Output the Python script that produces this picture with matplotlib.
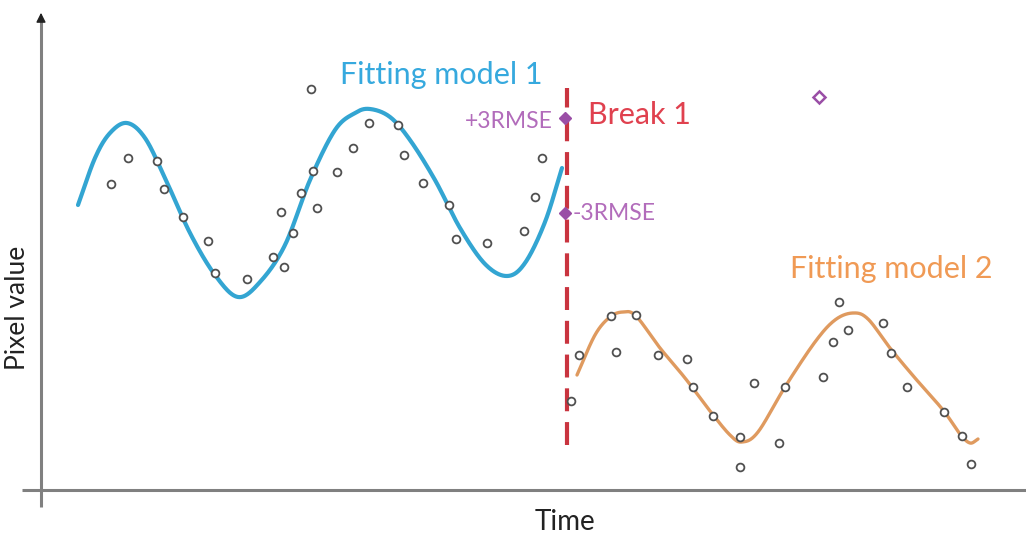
import numpy as np
import matplotlib
matplotlib.use("Agg")
import matplotlib.pyplot as plt

# ---- observations before the break ----
obs1_t = [111, 128, 157, 164, 183, 208, 215, 247, 273, 284, 281, 293, 301, 313,
          317, 311, 337, 353, 369, 398, 404, 423, 449, 456, 487, 524, 535, 542]
obs1_v = [354, 380, 377, 349, 321, 297, 265, 259, 281, 271, 326, 305, 345, 367,
          330, 449, 366, 390, 415, 413, 383, 355, 333, 299, 295, 307, 341, 380]

# ---- observations after the break ----
obs2_t = [571, 579, 611, 616, 636, 658, 687, 693, 713, 740, 740, 754, 779, 785,
          823, 833, 839, 848, 883, 891, 907, 944, 962, 971]
obs2_v = [137, 183, 222, 186, 223, 183, 179, 151, 122, 101, 71, 155, 95, 151,
          161, 196, 236, 208, 215, 185, 151, 126, 102, 74]

# ---- fitted model 1 (knots of the fitted curve) ----
fit1_t = [78, 95, 110, 127, 145, 165, 190, 215, 238, 260, 285, 310, 335, 355,
          370, 390, 410, 435, 460, 485, 507, 525, 545, 562]
fit1_v = [333, 380, 405, 415, 400, 360, 305, 263, 241, 256, 293, 358, 408, 425,
          429, 421, 398, 358, 310, 274, 262, 275, 316, 370]

# ---- fitted model 2 ----
fit2_t = [577, 595, 610, 623, 636, 660, 685, 710, 730, 742, 758, 785, 815, 835,
          853, 868, 890, 915, 943, 960, 970, 978]
fit2_v = [163, 203, 221, 226, 222, 190, 160, 127, 103, 96, 106, 151, 196, 218,
          225, 219, 190, 160, 128, 104, 95, 99]

# ---- break and RMSE bounds ----
break_t = 567
break_span = (93, 450)
rmse_t = 565
rmse_upper = 420
rmse_lower = 325
outlier_t, outlier_v = 819, 441


def catmull_rom(xs, ys, n=30):
    p = np.column_stack([xs, ys]).astype(float)
    p = np.vstack([2 * p[0] - p[1], p, 2 * p[-1] - p[-2]])
    out = []
    s = np.linspace(0, 1, n, endpoint=False)[:, None]
    for i in range(1, len(p) - 2):
        p0, p1, p2, p3 = p[i - 1], p[i], p[i + 1], p[i + 2]
        seg = 0.5 * ((2 * p1) + (-p0 + p2) * s
                     + (2 * p0 - 5 * p1 + 4 * p2 - p3) * s ** 2
                     + (-p0 + 3 * p1 - 3 * p2 + p3) * s ** 3)
        out.append(seg)
    out.append(p[-2][None, :])
    out = np.vstack(out)
    return out[:, 0], out[:, 1]


plt.rcParams['font.family'] = ['Lato', 'DejaVu Sans']

fig = plt.figure(figsize=(10.26, 5.38), dpi=100)
ax = fig.add_axes([0, 0, 1, 1])
ax.set_xlim(0, 1026)
ax.set_ylim(0, 538)
ax.axis('off')

axis_col = '#808080'
# axes drawn as arrows
ax.plot([41, 41], [31, 518], color=axis_col, lw=2.2, solid_capstyle='butt', zorder=1)
ax.annotate('', xy=(41, 528), xytext=(41, 515),
            arrowprops=dict(arrowstyle='-|>', color='#222222', lw=1,
                            mutation_scale=14))
ax.plot([22, 1026], [48, 48], color=axis_col, lw=2.2, solid_capstyle='butt', zorder=1)

ax.text(18, 230, 'Pixel value', rotation=90, ha='center', va='center',
        fontsize=19, color='#222222')
ax.text(565, 16, 'Time', ha='center', va='center', fontsize=20, color='#222222')

# fitted curves
cx, cy = catmull_rom(fit1_t, fit1_v)
ax.plot(cx, cy, color='#33a5d2', lw=3.0, solid_capstyle='round', zorder=2)
cx, cy = catmull_rom(fit2_t, fit2_v)
ax.plot(cx, cy, color='#df9a5f', lw=2.4, solid_capstyle='round', zorder=2)

# observations
mk = dict(ls='none', marker='o', ms=5.6, mfc='white', mec='#505050', mew=1.3, zorder=3)
ax.plot(obs1_t, obs1_v, **mk)
ax.plot(obs2_t, obs2_v, **mk)

# break line
ax.plot([break_t, break_t], break_span, color='#c9343f', lw=3.0,
        dashes=(5.5, 2.6), zorder=2)

# RMSE bounds and the exceedance
purple = '#9a4ea6'
ax.plot([rmse_t, rmse_t], [rmse_upper, rmse_lower], ls='none', marker='D', ms=6.5,
        color=purple, zorder=4)
ax.plot([outlier_t], [outlier_v], ls='none', marker='D', ms=6, mfc='white',
        mec=purple, mew=1.8, zorder=4)

ax.text(340, 463, 'Fitting model 1', ha='left', va='center', fontsize=22,
        color='#36a9de')
ax.text(588, 423, 'Break 1', ha='left', va='center', fontsize=22, color='#e0414f')
ax.text(553, 416, '+3RMSE', ha='right', va='center', fontsize=16.5, color='#b26cbb')
ax.text(573, 325, '-3RMSE', ha='left', va='center', fontsize=16.5, color='#b26cbb')
ax.text(790, 269, 'Fitting model 2', ha='left', va='center', fontsize=22,
        color='#f09a55')

fig.savefig('out.png', dpi=100)
